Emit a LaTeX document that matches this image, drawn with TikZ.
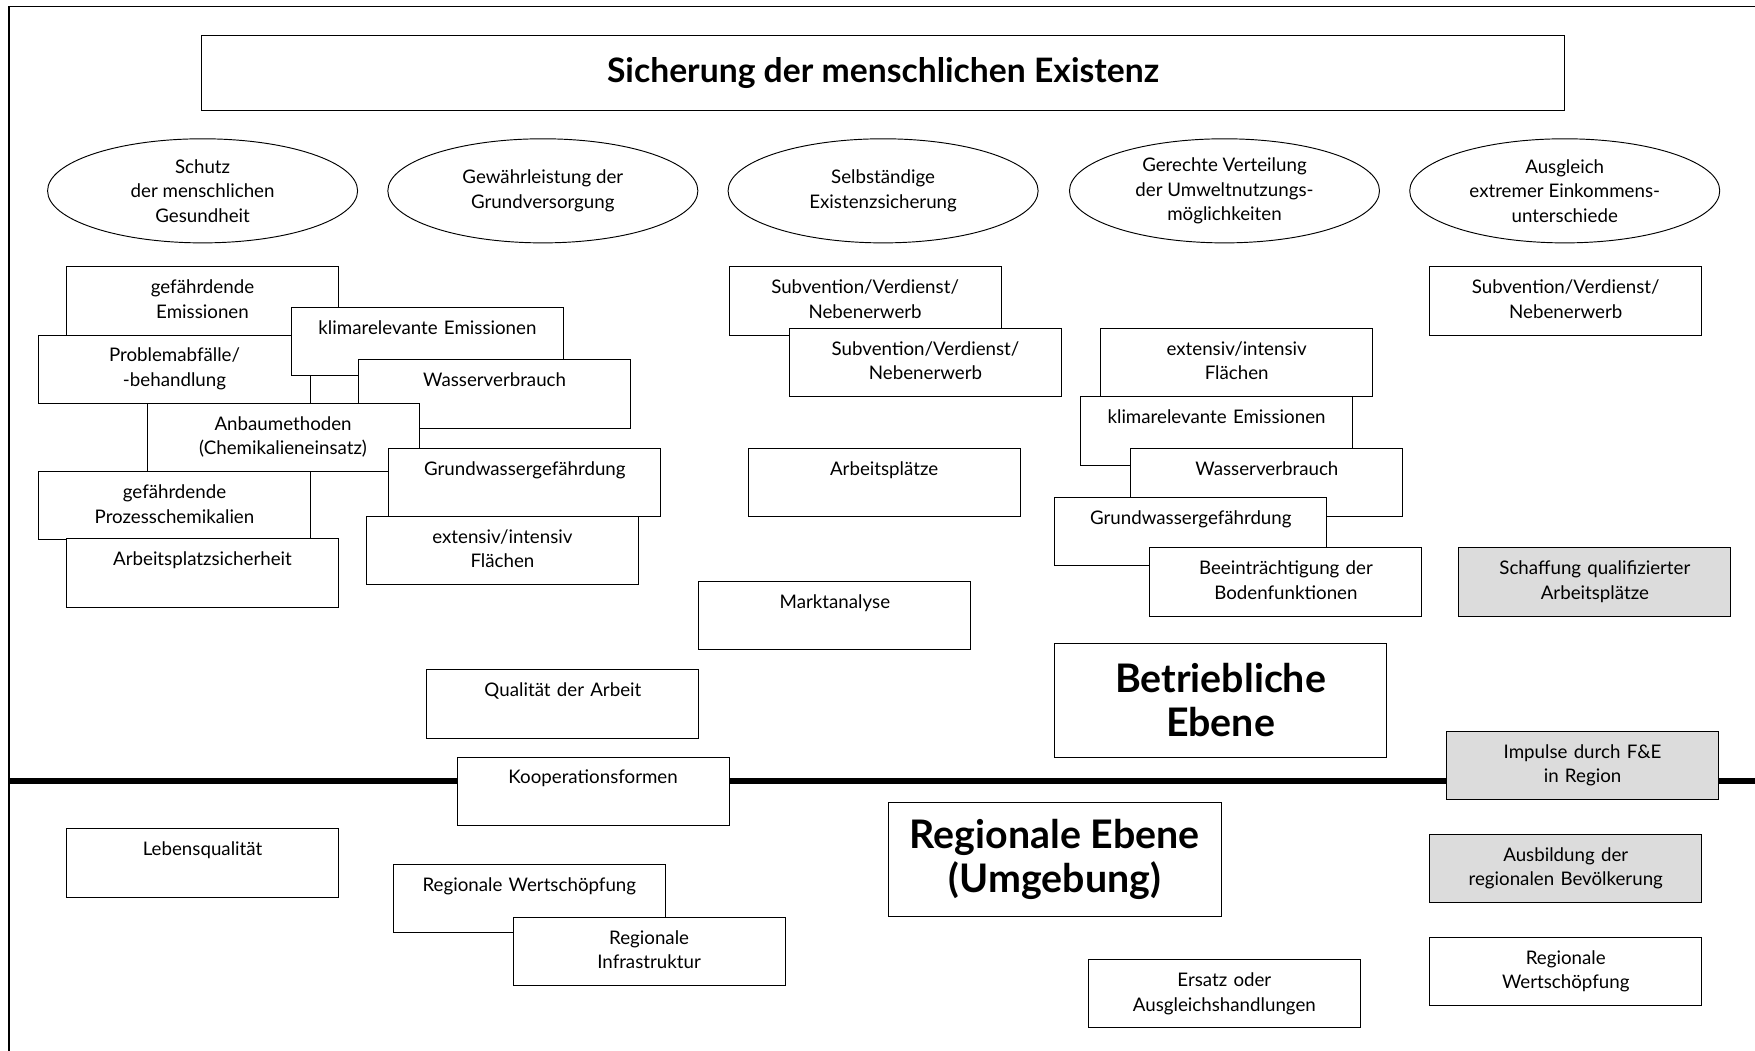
\documentclass[tikz,border=0pt]{standalone}
\usepackage{fontspec}
\setmainfont{Lato}
\usetikzlibrary{shapes.geometric}
\definecolor{panelgray}{HTML}{DCDCDC}
\begin{document}
\begin{tikzpicture}[x=0.25mm,y=-0.25mm,
  every node/.style={inner sep=0pt},
  boxtext/.style={font=\fontsize{11.9}{15.6}\selectfont},
  item/.style={boxtext, draw, line width=0.6pt, fill=white, anchor=north west,
    text width=60.75mm, align=center, text height=6mm, text depth=9.25mm},
  shaded/.style={item, fill=panelgray},
  goal/.style={boxtext, ellipse, draw, line width=0.6pt,
    minimum width=69.25mm, minimum height=23.25mm, align=center},
  level/.style={draw, line width=0.6pt, fill=white, minimum width=74.25mm,
    minimum height=25.5mm, align=center, font=\bfseries\fontsize{25}{28}\selectfont}
]
\useasboundingbox (0,0) rectangle (1568,939);

% outer frame
\draw[line width=0.8pt] (8,939) -- (8,6) -- (1568,6);

% border between the farm level and the regional level
\coordinate (sepL) at (8,698);
\coordinate (sepR) at (1568,698);
\draw[line width=3.8pt] (sepL) -- (sepR);

% headline
\node[draw, line width=0.6pt, minimum width=304.5mm, minimum height=16.75mm,
  font=\bfseries\fontsize{21.4}{25}\selectfont] (title) at (789,65.5)
  {Sicherung der menschlichen Existenz};

% goals
\node[goal] (g1) at (181,170.5) {Schutz\\der menschlichen\\Gesundheit};
\node[goal] (g2) at (485,170.5) {Gewährleistung der\\Grundversorgung};
\node[goal] (g3) at (789,170.5) {Selbständige\\Existenzsicherung};
\node[goal] (g4) at (1094,170.5) {Gerechte Verteilung\\der Umweltnutzungs-\\möglichkeiten};
\node[goal] (g5) at (1398,170.5) {Ausgleich\\extremer Einkommens-\\unterschiede};

% health cluster
\node[item] (gefem) at (59,238) {gefährdende\\Emissionen};
\node[item] (probl) at (34,299) {Problemabfälle/\\-behandlung};
\node[item] (klima) at (260,274) {klimarelevante Emissionen};
\node[item] (wasser) at (320,321) {Wasserverbrauch};
\node[item] (anbau) at (131,360) {Anbaumethoden\\(Chemikalieneinsatz)};
\node[item] (grundw) at (347,400) {Grundwassergefährdung};
\node[item] (prozess) at (34,421) {gefährdende\\Prozesschemikalien};
\node[item] (flaech) at (327,461) {extensiv/intensiv\\Flächen};
\node[item] (arbsich) at (59,481) {Arbeitsplatzsicherheit};
\node[item] (qualit) at (381,598) {Qualität der Arbeit};
\node[item] (koop) at (408,676) {Kooperationsformen};

% income cluster
\node[item] (subv1) at (651,238) {Subvention/Verdienst/\\Nebenerwerb};
\node[item] (subv2) at (705,293) {Subvention/Verdienst/\\Nebenerwerb};
\node[item] (arbpl) at (668,400) {Arbeitsplätze};
\node[item] (markt) at (624,519) {Marktanalyse};

% environment cluster
\node[item] (flaech2) at (983,293) {extensiv/intensiv\\Flächen};
\node[item] (klima2) at (965,354) {klimarelevante Emissionen};
\node[item] (wasser2) at (1010,400) {Wasserverbrauch};
\node[item] (grundw2) at (942,444) {Grundwassergefährdung};
\node[item] (boden) at (1027,489) {Beeinträchtigung der\\Bodenfunktionen};
\node[level] (betr) at (1090.5,625.5) {Betriebliche\\Ebene};

% right column
\node[item] (subv3) at (1277,238) {Subvention/Verdienst/\\Nebenerwerb};
\node[shaded] (schaff) at (1303,489) {Schaffung qualifizierter\\Arbeitsplätze};
\node[shaded] (impuls) at (1292,653) {Impulse durch F\&E\\in Region};
\node[shaded] (ausb) at (1277,745) {Ausbildung der\\regionalen Bevölkerung};
\node[item] (regw2) at (1277,837) {Regionale\\Wertschöpfung};

% regional level
\node[item] (leben) at (59,740) {Lebensqualität};
\node[item] (regw) at (351,772) {Regionale Wertschöpfung};
\node[item] (infra) at (458,819) {Regionale\\Infrastruktur};
\node[level] (region) at (942.5,768) {Regionale Ebene\\(Umgebung)};
\node[item] (ersatz) at (972,857) {Ersatz oder\\Ausgleichshandlungen};
\end{tikzpicture}
\end{document}
